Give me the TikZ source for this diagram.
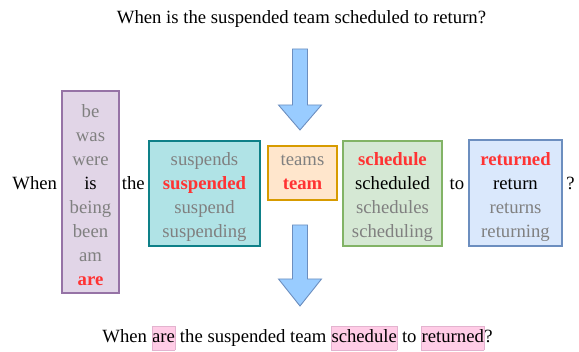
\documentclass[tikz,border=0pt]{standalone}
\usepackage{fontspec}
\setmainfont{Liberation Serif}
\definecolor{pfill}{HTML}{E1D5E7}\definecolor{pdraw}{HTML}{9673A6}
\definecolor{tfill}{HTML}{B0E3E6}\definecolor{tdraw}{HTML}{0E8088}
\definecolor{ofill}{HTML}{FFE6CC}\definecolor{odraw}{HTML}{D79B00}
\definecolor{gfill}{HTML}{D5E8D4}\definecolor{gdraw}{HTML}{82B366}
\definecolor{bfill}{HTML}{DAE8FC}\definecolor{bdraw}{HTML}{6C8EBF}
\definecolor{afill}{HTML}{99CCFF}
\definecolor{gtxt}{HTML}{808080}
\definecolor{rtxt}{HTML}{FF3333}
\definecolor{hlfill}{HTML}{FFCCE6}\definecolor{hldraw}{HTML}{E3B3CF}
\newcommand{\hlword}[1]{{\setlength\fboxsep{0pt}\setlength\fboxrule{0.4pt}\fcolorbox{hldraw}{hlfill}{\strut #1}}}
\tikzset{
  txt/.style={font=\fontsize{18.7}{24}\selectfont, inner sep=0pt, anchor=base},
  gw/.style={txt, text=gtxt},
  rw/.style={txt, text=rtxt, font=\fontsize{18.7}{24}\selectfont\bfseries},
  bw/.style={txt, text=black},
  wbox/.style={rectangle, line width=1.2pt, inner sep=0pt},
  barrow/.style={fill=afill, draw=bdraw, line width=0.9pt, line join=miter},
}
\begin{document}
\begin{tikzpicture}[x=1pt,y=-1pt]
\useasboundingbox (0,0) rectangle (579,352);
% title
\node[bw] (title) at (301.5,23.5) {When is the suspended team scheduled to return?};
% top arrow
\draw[barrow] (292.5,49) -- (307.5,49) -- (307.5,105) -- (321.5,105) -- (300,130) -- (278.5,105) -- (292.5,105) -- cycle;
% bottom arrow
\draw[barrow] (292.5,225) -- (307.5,225) -- (307.5,279) -- (321.5,279) -- (300,306) -- (278.5,279) -- (292.5,279) -- cycle;
% boxes
\node[wbox, fill=pfill, draw=pdraw, minimum width=57, minimum height=202] (aux) at (90.5,192) {};
\node[wbox, fill=tfill, draw=tdraw, minimum width=111, minimum height=105] (part) at (204.5,193.5) {};
\node[wbox, fill=ofill, draw=odraw, minimum width=69, minimum height=54] (noun) at (302.5,173) {};
\node[wbox, fill=gfill, draw=gdraw, minimum width=99, minimum height=105] (sched) at (392.5,193.5) {};
\node[wbox, fill=bfill, draw=bdraw, minimum width=93, minimum height=106] (ret) at (515.5,193) {};
% fixed words
\node[bw] (w1) at (34.7,189.5) {When};
\node[bw] (w2) at (133.3,189.5) {the};
\node[bw] (w3) at (457,189.5) {to};
\node[bw] (w4) at (570.5,189.5) {?};
% aux words
\node[gw] (a1) at (90.5,117.5) {be};
\node[gw] (a2) at (90.5,141.5) {was};
\node[gw] (a3) at (90.5,165.5) {were};
\node[bw] (a4) at (90.5,189.5) {is};
\node[gw] (a5) at (90.5,213.5) {being};
\node[gw] (a6) at (90.5,237.5) {been};
\node[gw] (a7) at (90.5,261.5) {am};
\node[rw] (a8) at (90.5,285.5) {are};
% participle words
\node[gw] (p1) at (204.5,165.5) {suspends};
\node[rw] (p2) at (204.5,189.5) {suspended};
\node[gw] (p3) at (204.5,213.5) {suspend};
\node[gw] (p4) at (204.5,237.5) {suspending};
% noun words
\node[gw] (n1) at (302.5,166) {teams};
\node[rw] (n2) at (302.5,189.5) {team};
% schedule words
\node[rw] (s1) at (392.5,165.5) {schedule};
\node[bw] (s2) at (392.5,189.5) {scheduled};
\node[gw] (s3) at (392.5,213.5) {schedules};
\node[gw] (s4) at (392.5,237.5) {scheduling};
% return words
\node[rw] (r1) at (515.5,165.5) {returned};
\node[bw] (r2) at (515.5,189.5) {return};
\node[gw] (r3) at (515.5,213.5) {returns};
\node[gw] (r4) at (515.5,237.5) {returning};
% result sentence
\node[bw] (result) at (297.5,343) {When \hlword{are} the suspended team \hlword{schedule} to \hlword{returned}?};
\end{tikzpicture}
\end{document}
